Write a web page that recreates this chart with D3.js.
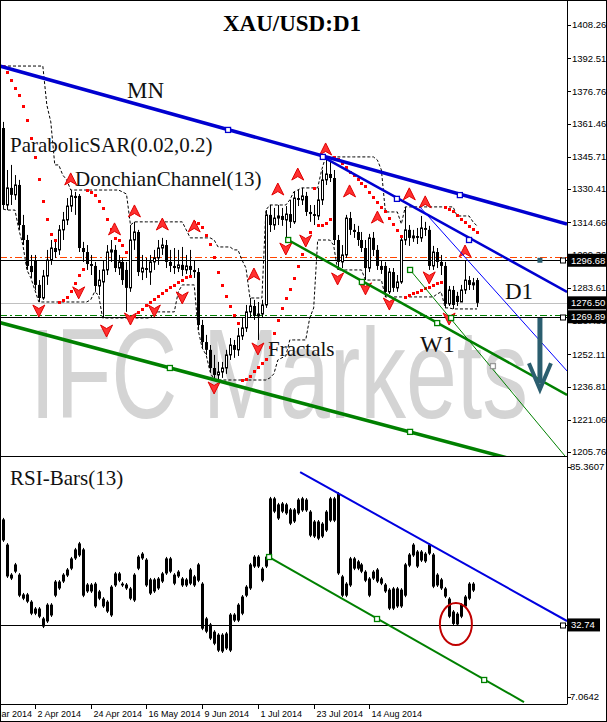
<!DOCTYPE html>
<html><head><meta charset="utf-8">
<script src="https://cdn.jsdelivr.net/npm/d3@7"></script>
<style>html,body{margin:0;padding:0;background:#fff;}svg{display:block;}</style>
</head><body>
<svg id="c" width="607" height="722"></svg>
<script>
// ---------- DATA ----------
const openP = [1359.4,1322.9,1331.0,1327.7,1332.4,1313.4,1306.3,1294.0,1296.8,1285.0,
1278.8,1289.2,1296.8,1302.5,1301.6,1311.1,1315.8,1322.4,1327.2,1327.2,
1302.5,1300.6,1294.9,1294.0,1284.5,1286.4,1292.1,1300.6,1301.6,1293.0,
1295.9,1292.1,1283.6,1306.3,1310.1,1291.1,1293.0,1291.1,1295.9,1297.8,
1302.5,1303.9,1295.9,1294.0,1293.0,1294.5,1292.1,1294.0,1292.1,1291.1,
1266.0,1257.9,1254.2,1245.6,1242.3,1243.7,1245.6,1251.8,1256.5,1254.2,
1260.8,1264.6,1272.2,1275.0,1270.3,1271.2,1275.5,1318.2,1313.4,1316.7,
1317.7,1315.8,1318.6,1314.9,1326.2,1325.3,1327.2,1319.6,1318.6,1317.7,
1325.3,1334.8,1337.6,1335.7,1306.3,1295.9,1299.2,1316.7,1311.1,1310.1,
1306.3,1302.5,1293.0,1307.3,1301.6,1294.0,1294.0,1281.7,1291.1,1283.6,
1286.4,1306.3,1311.1,1307.3,1308.2,1307.3,1312.0,1311.1,1294.0,1300.6,
1295.9,1294.0,1276.0,1282.6,1279.8,1276.9,1282.6,1287.3,1285.0,1287.3];
const highP = [1362.3,1339.5,1341.9,1337.1,1334.8,1318.2,1308.7,1299.2,1299.2,1287.3,
1292.1,1301.6,1306.3,1306.3,1313.4,1319.6,1326.2,1330.0,1329.1,1328.1,
1305.4,1303.9,1299.2,1295.9,1292.1,1296.8,1303.9,1306.3,1303.9,1299.2,
1297.8,1295.9,1313.4,1314.9,1311.1,1299.2,1297.8,1299.2,1301.6,1306.3,
1307.3,1306.3,1301.6,1302.5,1301.6,1303.0,1299.2,1301.6,1296.8,1293.0,
1268.4,1261.3,1256.5,1251.8,1248.5,1248.5,1254.2,1259.8,1258.9,1264.6,
1269.3,1275.5,1278.8,1277.9,1276.9,1277.9,1320.5,1322.9,1321.5,1322.9,
1321.5,1322.4,1325.3,1329.1,1330.0,1331.0,1329.1,1322.9,1322.9,1331.0,
1339.5,1345.7,1344.2,1339.5,1308.7,1303.9,1318.2,1319.6,1313.9,1313.0,
1310.1,1306.3,1309.2,1310.1,1303.9,1296.8,1295.9,1293.0,1293.0,1289.7,
1308.2,1322.0,1313.4,1311.1,1312.0,1317.7,1314.9,1313.0,1303.5,1302.5,
1299.2,1295.9,1284.5,1284.5,1281.7,1285.0,1296.8,1289.2,1288.3,1288.3];
const lowP = [1321.0,1320.5,1322.9,1325.3,1311.1,1303.9,1292.1,1288.3,1282.6,1276.9,
1277.9,1285.0,1294.5,1297.8,1299.2,1306.3,1313.4,1319.6,1318.2,1300.6,
1295.9,1292.1,1289.7,1281.7,1280.2,1269.3,1289.7,1295.9,1291.1,1289.7,
1285.0,1272.2,1281.7,1301.6,1289.2,1287.3,1288.3,1285.0,1292.1,1294.5,
1299.2,1293.0,1291.1,1290.2,1291.1,1289.2,1290.2,1289.2,1288.3,1263.6,
1255.1,1251.8,1243.7,1239.9,1239.9,1240.9,1242.8,1249.4,1250.4,1251.3,
1258.9,1262.7,1269.3,1268.4,1258.9,1269.3,1274.1,1310.1,1311.1,1313.4,
1313.0,1306.3,1312.0,1313.9,1322.4,1322.9,1317.7,1314.9,1313.4,1315.8,
1322.9,1332.4,1333.8,1303.9,1292.1,1293.0,1297.8,1308.7,1307.3,1303.5,
1300.6,1287.3,1291.1,1298.7,1292.1,1290.2,1279.3,1280.7,1281.7,1281.7,
1285.5,1303.9,1303.5,1305.4,1304.4,1305.4,1308.2,1292.1,1292.1,1293.0,
1289.7,1274.1,1275.0,1273.6,1275.0,1276.9,1280.7,1282.6,1282.6,1274.5];
const closeP = [1322.9,1331.0,1327.7,1332.4,1313.4,1306.3,1294.0,1291.1,1285.0,1278.8,
1289.2,1296.8,1302.5,1300.6,1311.1,1315.8,1322.4,1327.2,1326.2,1302.5,
1300.6,1294.9,1294.0,1284.5,1287.3,1292.1,1300.6,1301.6,1293.0,1295.9,
1287.3,1283.6,1306.3,1310.1,1291.1,1293.0,1292.1,1295.9,1297.8,1302.5,
1303.9,1295.9,1294.0,1293.0,1294.5,1292.1,1294.0,1292.1,1291.1,1266.0,
1257.9,1254.2,1245.6,1242.3,1243.7,1245.6,1251.8,1256.5,1254.2,1260.8,
1264.6,1272.2,1275.0,1270.3,1271.2,1275.5,1318.2,1313.4,1316.7,1317.7,
1315.8,1318.6,1314.9,1326.2,1325.3,1327.2,1319.6,1318.6,1317.7,1325.3,
1334.8,1337.6,1335.7,1306.3,1295.9,1299.2,1316.7,1311.1,1310.1,1306.3,
1302.5,1293.0,1307.3,1301.6,1294.0,1292.1,1281.7,1291.1,1283.6,1286.4,
1306.3,1311.1,1307.3,1308.2,1307.3,1312.0,1311.1,1294.0,1300.6,1295.9,
1294.0,1276.0,1282.6,1275.5,1276.9,1282.6,1287.3,1285.0,1286.0,1276.5];

// 12 bars preceding the first visible bar (only used by the Donchian window)
const priorHighs = [1345.2,1350.6,1348.9,1356.3,1361.0,1368.7,1374.5,1372.0,1381.6,1384.9,1388.8,1370.4];
const priorLows  = [1331.8,1336.0,1339.2,1342.5,1349.7,1356.0,1359.1,1362.3,1366.4,1370.2,1358.7,1340.5];

const rsiHigh = [68.4,60.0,50.0,53.4,50.0,43.4,43.4,41.0,38.7,38.7,
35.4,40.0,40.0,47.7,47.7,50.0,51.7,55.4,58.4,60.4,
58.4,46.7,46.7,47.0,44.4,42.0,41.0,46.0,50.4,50.4,
47.0,46.7,45.4,50.0,56.0,57.0,55.0,48.4,48.4,48.7,
50.4,55.4,55.4,50.0,51.0,48.7,48.4,51.7,49.4,53.4,
47.0,35.4,33.4,31.0,30.0,30.0,30.4,36.7,36.7,40.0,
42.7,46.0,53.4,56.0,56.0,52.0,56.0,75.4,75.4,73.4,
73.7,73.4,71.7,71.7,75.0,75.4,75.0,71.0,67.7,67.7,
67.0,71.0,75.4,75.4,77.0,49.4,47.0,55.4,55.4,54.4,
53.4,51.0,48.7,51.0,51.7,48.7,46.7,45.0,45.4,45.4,
45.0,53.4,56.7,60.0,57.7,57.7,57.0,60.0,56.7,50.0,
48.4,45.4,42.0,37.7,37.0,40.0,42.7,47.0,47.0];
const rsiLow = [60.4,48.4,47.7,50.0,42.0,41.0,40.0,36.0,36.0,35.0,
31.7,33.4,35.4,42.0,44.4,46.7,48.7,51.0,54.4,55.4,
42.0,43.4,43.4,38.4,41.0,38.4,36.7,35.4,45.4,47.0,
45.4,44.4,41.0,40.4,51.0,54.4,45.4,42.7,43.4,44.4,
46.7,49.4,50.0,46.0,48.4,45.4,45.4,46.0,45.4,47.0,
31.0,30.0,27.7,26.0,23.7,23.4,24.4,23.7,33.7,33.7,
36.0,42.0,44.4,51.7,51.7,47.0,51.7,55.4,70.0,67.7,
70.0,69.4,66.0,66.7,69.4,70.4,70.4,62.0,61.7,61.0,
61.7,63.7,67.0,67.0,49.4,42.0,42.0,45.4,51.0,51.0,
50.0,47.0,42.0,47.7,46.7,46.0,43.4,37.7,37.7,38.4,
38.4,42.0,52.0,55.4,51.7,53.7,53.4,56.0,45.0,45.4,
44.4,41.7,35.0,32.6,32.4,35.0,38.4,41.0,43.7];

const priceTicks = [1408.26,1392.51,1376.76,1361.46,1345.71,1330.41,1314.66,1299.36,1283.61,1267.86,1252.11,1236.81,1221.06,1205.76];
const rsiTicks = [85.3607, 7.0642];
const dateLabels = ["13 Mar 2014","2 Apr 2014","24 Apr 2014","16 May 2014","9 Jun 2014","1 Jul 2014","23 Jul 2014","14 Aug 2014"];
const dateIdx = [-6, 8, 22, 36, 50, 64, 78, 92];

const fractalUpIdx   = [17,28,33,40,48,63,69,74,81,87,94,102,106,116];
const fractalUpPrice = [1334.8,1311.1,1319.6,1313.4,1312.5,1289.7,1330.0,1337.1,1349.0,1329.1,1316.7,1327.7,1323.9,1300.6];
const fractalDnIdx   = [9,19,26,32,38,45,53,64,71,76,84,91,97,107,112];
const fractalDnPrice = [1273.1,1281.7,1263.6,1269.3,1273.1,1279.3,1236.6,1255.1,1302.5,1306.3,1288.3,1283.6,1276.4,1288.8,1269.3];

const sarStep = 0.02, sarMax = 0.2, sarStart = 1388.8, sarStartAF = 0.04;
const donchianPeriod = 13;

const resistanceLevel = 1296.68, bidLevel = 1276.50, supportLevel = 1269.89;
const orangeLevel = 1298.0, greenLevel = 1270.7;
const rsiLevel = 32.74;

// trend lines: [barIndex, price]
const mnTop     = [[-0.75,1388.8],[141.6,1313.9]];
const mnTopMk   = [[56.5,1358.5],[114.7,1327.6]];
const w1Top     = [[80.3,1345.7],[141.6,1281.7]];
const w1TopMk   = [[80.3,1345.7],[98.9,1325.8],[117,1306.3]];
const d1Top     = [[104.7,1321.9],[141.6,1244.2]];
const mnBot     = [[-0.75,1267.1],[141.6,1195.4]];
const mnBotMk   = [[41.9,1245.6],[102.2,1215.3]];
const w1Bot     = [[71.6,1306.3],[141.6,1232.8]];
const w1BotMk   = [[71.6,1306.3],[90.1,1286.4],[109,1266.9]];
const d1Bot     = [[102.2,1292.1],[145.0,1195.0]];
const d1BotMk   = [[102.2,1292.1],[112.5,1269.3]];
const d1BotMk2  = [[123,1246.5]];
const rsiTop    = [[74.6,83.69],[141.6,34.05]];
const rsiBot    = [[66.8,55.37],[130.8,7.06]];
const rsiBotMk  = [[66.8,55.37],[93.9,34.72],[120.8,14.4]];
const rsiCircle = [113.7, 33.05];
const arrowFrom = [134.8,1269.3], arrowTo = [134.8,1235.5];
const arrowMark = [134.8,1297.4];

// ---------- SCALES ----------
const svg = d3.select('#c');
const AX = 567, MAIN_B = 456, RSI_T = 457, RSI_B = 704;
const x  = d3.scaleLinear().domain([0,119]).range([3,477]);
const y  = d3.scaleLinear().domain([1205.76,1408.26]).range([452,25]);
const yr = d3.scaleLinear().domain([7.0642,85.3607]).range([702,467]);

const defs = svg.append('defs');
defs.append('clipPath').attr('id','cm').append('rect').attr('x',1).attr('y',1).attr('width',AX-1).attr('height',MAIN_B-1);
defs.append('clipPath').attr('id','cr').append('rect').attr('x',1).attr('y',RSI_T+1).attr('width',AX-1).attr('height',RSI_B-RSI_T-1);

svg.append('rect').attr('width',607).attr('height',722).attr('fill','#fff');

const gm = svg.append('g').attr('clip-path','url(#cm)');
const serif = '"Liberation Serif","Times New Roman",serif';
const sans = '"Liberation Sans",Arial,sans-serif';

// watermark
gm.append('text').attr('x',30).attr('y',418).attr('font-family',sans).attr('font-size',128)
  .attr('fill','#d4d4d4').attr('textLength',498).attr('lengthAdjust','spacingAndGlyphs').text('IFC Markets');

// horizontal levels
function hline(g, yy, color, w, dash){
  const l = g.append('line').attr('x1',0).attr('x2',AX).attr('y1',Math.round(yy)+0.5).attr('y2',Math.round(yy)+0.5)
    .attr('stroke',color).attr('stroke-width',w);
  if (dash) l.attr('stroke-dasharray',dash);
}
hline(gm, y(bidLevel), '#c0c0c0', 1);
hline(gm, y(orangeLevel), '#ff4500', 1, '7,3,2,3');
hline(gm, y(greenLevel), '#008000', 1, '7,3,2,3');
hline(gm, y(resistanceLevel), '#000', 1);
hline(gm, y(supportLevel), '#000', 1);

// Donchian channel
const allH = priorHighs.concat(highP), allL = priorLows.concat(lowP), P = priorHighs.length;
const dUp = highP.map((_,i)=>d3.max(allH.slice(i+P-(donchianPeriod-1), i+P+1)));
const dDn = lowP.map((_,i)=>d3.min(allL.slice(i+P-(donchianPeriod-1), i+P+1)));
const dl = d3.line().x((d,i)=>x(i)).y(d=>y(d));
[dUp,dDn].forEach(s=>gm.append('path').attr('d',dl(s)).attr('fill','none').attr('stroke','#000')
  .attr('stroke-width',1).attr('stroke-dasharray','3,2'));

// candles
const bars = d3.range(openP.length).map(i=>({i,o:openP[i],h:highP[i],l:lowP[i],c:closeP[i]}));
const cg = gm.append('g');
cg.selectAll('line').data(bars).join('line')
  .attr('x1',d=>Math.round(x(d.i))+0.5).attr('x2',d=>Math.round(x(d.i))+0.5)
  .attr('y1',d=>y(d.h)).attr('y2',d=>y(d.l)).attr('stroke','#000').attr('stroke-width',1);
cg.selectAll('rect').data(bars).join('rect')
  .attr('x',d=>d.c>=d.o ? Math.round(x(d.i))-0.5 : Math.round(x(d.i))-1)
  .attr('width',d=>d.c>=d.o ? 2 : 3)
  .attr('y',d=>y(Math.max(d.o,d.c)))
  .attr('height',d=>Math.max(1, Math.abs(y(d.o)-y(d.c))))
  .attr('fill',d=>d.c>=d.o ? '#fff' : '#000')
  .attr('stroke',d=>d.c>=d.o ? '#000' : 'none').attr('stroke-width',1);

// Parabolic SAR
const sar = [];
(function(){
  let up=false, s=sarStart, ep=lowP[0], af=sarStartAF;
  for (let i=0;i<highP.length;i++){
    if (i>0){
      s = s + af*(ep - s);
      if (up){
        s = Math.min(s, lowP[i-1], i>1?lowP[i-2]:lowP[i-1]);
        if (lowP[i] < s){ up=false; s=ep; ep=lowP[i]; af=sarStep; }
        else if (highP[i] > ep){ ep=highP[i]; af=Math.min(af+sarStep,sarMax); }
      } else {
        s = Math.max(s, highP[i-1], i>1?highP[i-2]:highP[i-1]);
        if (highP[i] > s){ up=true; s=ep; ep=highP[i]; af=sarStep; }
        else if (lowP[i] < ep){ ep=lowP[i]; af=Math.min(af+sarStep,sarMax); }
      }
    }
    sar.push(s);
  }
})();
gm.append('g').selectAll('rect').data(sar).join('rect')
  .attr('x',(d,i)=>Math.round(x(i))-1).attr('y',d=>Math.round(y(d))-1).attr('width',3).attr('height',3).attr('fill','#ff0000');

// fractals
const upPath = 'M0,-7 L6,5 L0,1.5 L-6,5 Z';
const dnPath = 'M0,7 L6,-5 L0,-1.5 L-6,-5 Z';
const fg = gm.append('g');
fg.selectAll('path.u').data(fractalUpIdx.map((d,k)=>[d,fractalUpPrice[k]])).join('path').attr('class','u')
  .attr('d',upPath).attr('transform',d=>`translate(${x(d[0])},${y(d[1])})`)
  .attr('fill','#ff3030').attr('stroke','#e00000').attr('stroke-width',1);
fg.selectAll('path.d').data(fractalDnIdx.map((d,k)=>[d,fractalDnPrice[k]])).join('path').attr('class','d')
  .attr('d',dnPath).attr('transform',d=>`translate(${x(d[0])},${y(d[1])})`)
  .attr('fill','#ff3030').attr('stroke','#e00000').attr('stroke-width',1);

// trend lines
function tline(g, pts, sy, color, w){
  g.append('line').attr('x1',x(pts[0][0])).attr('y1',sy(pts[0][1])).attr('x2',x(pts[1][0])).attr('y2',sy(pts[1][1]))
    .attr('stroke',color).attr('stroke-width',w);
}
function marks(g, pts, sy, color, fill){
  g.selectAll(null).data(pts).join('rect').attr('x',d=>x(d[0])-2.5).attr('y',d=>sy(d[1])-2.5)
    .attr('width',5).attr('height',5).attr('fill',fill||'#fff').attr('stroke',color).attr('stroke-width',1.3);
}
tline(gm, mnTop, y, '#0000d0', 3.5);
tline(gm, w1Top, y, '#0000d0', 2.5);
tline(gm, d1Top, y, '#0000ff', 1);
tline(gm, mnBot, y, '#008000', 3.5);
tline(gm, w1Bot, y, '#008000', 2.5);
tline(gm, d1Bot, y, '#008000', 1);
marks(gm, mnTopMk, y, '#0000d0');
marks(gm, w1TopMk, y, '#0000d0');
marks(gm, mnBotMk, y, '#008000');
marks(gm, w1BotMk, y, '#008000');
marks(gm, d1BotMk, y, '#008000');
marks(gm, d1BotMk2, y, '#999');

// arrow
const teal = '#2b5e6f';
gm.append('rect').attr('x',x(arrowMark[0])-2.5).attr('y',y(arrowMark[1])-1).attr('width',5).attr('height',5).attr('fill',teal);
gm.append('line').attr('x1',x(arrowFrom[0])).attr('x2',x(arrowTo[0])).attr('y1',y(arrowFrom[1])).attr('y2',y(arrowTo[1])-6)
  .attr('stroke',teal).attr('stroke-width',5);
gm.append('polyline').attr('points',`${x(arrowTo[0])-11},${y(arrowTo[1])-26} ${x(arrowTo[0])},${y(arrowTo[1])} ${x(arrowTo[0])+11},${y(arrowTo[1])-26}`)
  .attr('fill','none').attr('stroke',teal).attr('stroke-width',4).attr('stroke-linejoin','miter');

// right-end anchors of levels
[resistanceLevel, supportLevel].forEach(v=>{
  gm.append('rect').attr('x',AX-6.5).attr('y',Math.round(y(v))-2).attr('width',5).attr('height',5).attr('fill','#fff').attr('stroke','#000');
});

// annotations
const ann = [["MN",127,98,23],["ParabolicSAR(0.02,0.2)",10,152,21],["DonchianChannel(13)",75,186,21],
             ["Fractals",268,356,21],["D1",505,299,23],["W1",420,352,24]];
ann.forEach(a=>svg.append('text').attr('x',a[1]).attr('y',a[2]).attr('font-family',serif).attr('font-size',a[3]).attr('fill','#111').text(a[0]));
svg.append('text').attr('x',292).attr('y',31).attr('text-anchor','middle').attr('font-family',serif)
  .attr('font-weight','bold').attr('font-size',23).text('XAU/USD:D1');

// ---------- RSI PANEL ----------
const gr = svg.append('g').attr('clip-path','url(#cr)');
hline(gr, yr(rsiLevel), '#000', 1);
const rb = rsiHigh.map((h,k)=>({k,h,l:rsiLow[k]}));
gr.selectAll('line.w').data(rb).join('line').attr('class','w')
  .attr('x1',d=>Math.round(x(d.k))+0.5).attr('x2',d=>Math.round(x(d.k))+0.5)
  .attr('y1',d=>yr(d.h)).attr('y2',d=>yr(d.l)).attr('stroke','#000').attr('stroke-width',1);
gr.selectAll('rect.b').data(rb).join('rect').attr('class','b')
  .attr('x',d=>Math.round(x(d.k))-1).attr('width',3)
  .attr('y',d=>yr(d.h)+1.5).attr('height',d=>Math.max(1, yr(d.l)-yr(d.h)-3)).attr('fill','#000');
tline(gr, rsiTop, yr, '#0000e0', 2);
tline(gr, rsiBot, yr, '#008000', 2);
marks(gr, rsiBotMk, yr, '#008000');
gr.append('ellipse').attr('cx',x(rsiCircle[0])).attr('cy',yr(rsiCircle[1])).attr('rx',16).attr('ry',21)
  .attr('fill','none').attr('stroke','#c00000').attr('stroke-width',2);
gr.append('rect').attr('x',AX-6.5).attr('y',Math.round(yr(rsiLevel))-2).attr('width',5).attr('height',5).attr('fill','#fff').attr('stroke','#000');
svg.append('text').attr('x',10).attr('y',485).attr('font-family',serif).attr('font-size',21).attr('fill','#111').text('RSI-Bars(13)');

// ---------- FRAME & AXES ----------
const fr = svg.append('g').attr('stroke','#000').attr('stroke-width',1).attr('fill','none');
fr.append('line').attr('x1',AX+0.5).attr('x2',AX+0.5).attr('y1',0).attr('y2',RSI_B+0.5);
fr.append('line').attr('x1',0).attr('x2',AX).attr('y1',MAIN_B+0.5).attr('y2',MAIN_B+0.5);
fr.append('line').attr('x1',0).attr('x2',AX).attr('y1',RSI_B+0.5).attr('y2',RSI_B+0.5);
fr.append('rect').attr('x',0.5).attr('y',0.5).attr('width',606).attr('height',721);

const ax = svg.append('g').attr('font-family',sans).attr('font-size',9.5).attr('fill','#000');
priceTicks.forEach(v=>{
  ax.append('line').attr('x1',AX).attr('x2',AX+4).attr('y1',Math.round(y(v))+0.5).attr('y2',Math.round(y(v))+0.5).attr('stroke','#000');
  ax.append('text').attr('x',AX+5).attr('y',y(v)).attr('dy','0.35em').text(v.toFixed(2));
});
rsiTicks.forEach((v,k)=>{
  const yy = k===0 ? yr(v) : yr(v)-5;
  ax.append('line').attr('x1',AX).attr('x2',AX+4).attr('y1',Math.round(yy)+0.5).attr('y2',Math.round(yy)+0.5).attr('stroke','#000');
  ax.append('text').attr('x',AX+3).attr('y',yy).attr('dy','0.35em').text(v.toFixed(4));
});
function tag(v, sy, w, dec){
  const yy = sy(v);
  ax.append('rect').attr('x',AX+1).attr('y',yy-6.5).attr('width',w).attr('height',13).attr('fill','#000');
  ax.append('text').attr('x',AX+4).attr('y',yy).attr('dy','0.35em').attr('fill','#fff').text(v.toFixed(dec));
}
tag(resistanceLevel, y, 39, 2);
tag(bidLevel, y, 39, 2);
tag(supportLevel, y, 39, 2);
tag(rsiLevel, yr, 32, 2);

const dg = svg.append('g').attr('font-family',sans).attr('font-size',9).attr('fill','#000');
dateIdx.forEach((d,k)=>{
  const xx = Math.round(x(d))+0.5;
  dg.append('line').attr('x1',xx).attr('x2',xx).attr('y1',RSI_B).attr('y2',RSI_B+5).attr('stroke','#000');
  dg.append('text').attr('x',xx+2).attr('y',717).text(dateLabels[k]);
});
</script>
</body></html>
